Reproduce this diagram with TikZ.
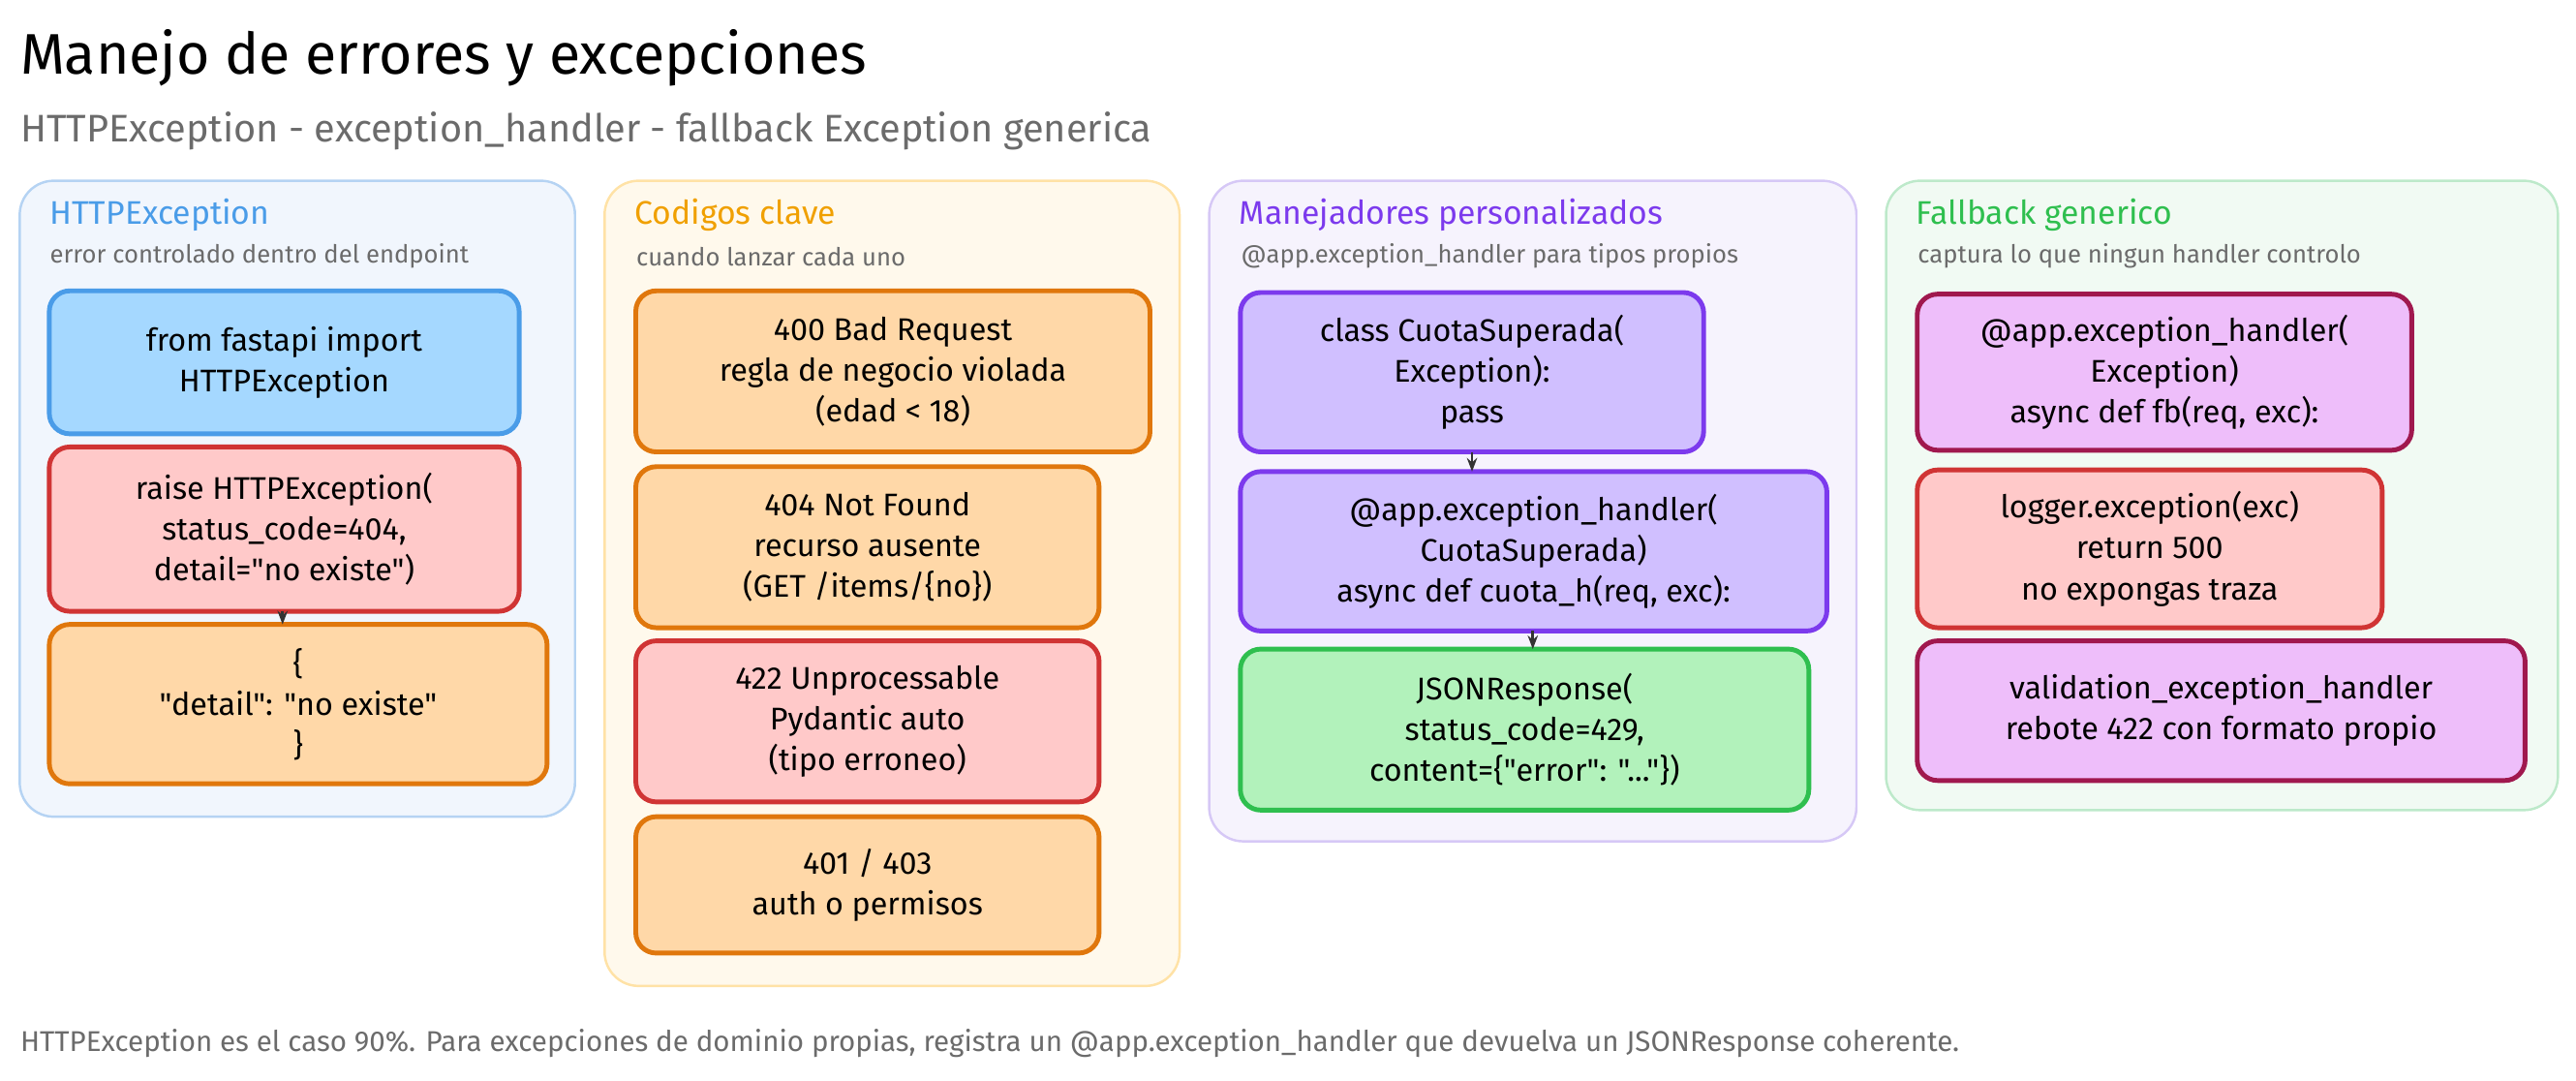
\documentclass[tikz,border=0pt]{standalone}
\usepackage{fontspec}
\setmainfont{Fira Sans}[Ligatures=TeXOff]
\usetikzlibrary{arrows.meta}
\newcommand{\dq}{"}
\definecolor{tgray}{HTML}{6b6b6b}
\definecolor{bluef}{HTML}{A5D8FF}\definecolor{blued}{HTML}{4A9CE8}
\definecolor{redf}{HTML}{FFC9C9}\definecolor{redd}{HTML}{D03434}
\definecolor{orf}{HTML}{FFD8A8}\definecolor{ord}{HTML}{E0770C}
\definecolor{puf}{HTML}{D0BFFF}\definecolor{pud}{HTML}{7C3AED}
\definecolor{grf}{HTML}{B2F2BB}\definecolor{grd}{HTML}{2FBF4F}
\definecolor{maf}{HTML}{EEBEFA}\definecolor{mad}{HTML}{A0184E}
\definecolor{ttlor}{HTML}{F0A000}
\definecolor{p1f}{HTML}{F1F6FD}\definecolor{p1d}{HTML}{B5D3F3}
\definecolor{p2f}{HTML}{FFF9EC}\definecolor{p2d}{HTML}{FFE2A6}
\definecolor{p3f}{HTML}{F6F3FD}\definecolor{p3d}{HTML}{D6C8F6}
\definecolor{p4f}{HTML}{F1FAF3}\definecolor{p4d}{HTML}{BDE9CA}
\newcommand{\mybox}[7]{\node[box,#6,minimum width={(#4-#2)*0.4827pt},minimum height={(#5-#3)*0.4827pt}] (#1) at ({(#2+#4)/2},{(#3+#5)/2}) {#7};}
\newcommand{\mypanel}[9]{\draw[panel,fill=#6,draw=#7] (#2,#3) rectangle (#4,#5);
\node[ptitle,text=#8] (#1t) at (#2+18,131) {#9};}
\begin{document}
\begin{tikzpicture}[x=0.4827pt,y=-0.4827pt,
 box/.style={draw,line width=1.4pt,rounded corners=6pt,align=center,font=\fontsize{9.2}{12}\selectfont,inner sep=2pt},
 panel/.style={line width=0.7pt,rounded corners=10pt},
 ptitle/.style={anchor=west,inner sep=0pt,font=\fontsize{9.6}{11}\selectfont},
 psub/.style={anchor=west,inner sep=0pt,text=tgray,font=\fontsize{7.3}{9}\selectfont},
 arr/.style={-{Stealth[length=4pt]},line width=0.8pt,black!80},
 b/.style={fill=bluef,draw=blued}, r/.style={fill=redf,draw=redd}, o/.style={fill=orf,draw=ord},
 p/.style={fill=puf,draw=pud}, g/.style={fill=grf,draw=grd}, m/.style={fill=maf,draw=mad}]
\useasboundingbox (0,0) rectangle (1568,657.3);
\node[anchor=west,inner sep=0pt,font=\fontsize{16.8}{18}\selectfont] (title) at (12,35) {Manejo de errores y excepciones};
\node[anchor=west,inner sep=0pt,text=tgray,font=\fontsize{11.3}{14}\selectfont] (subtitle) at (12,80) {HTTPException - exception\_handler - fallback Exception generica};
% panel 1
\mypanel{p1}{12}{110}{350}{497}{p1f}{p1d}{blued}{HTTPException}
\node[psub] (p1s) at (30,156) {error controlado dentro del endpoint};
\mybox{a1}{30}{177}{316}{264}{b}{from fastapi import\\HTTPException}
\mybox{a2}{30}{272}{316}{372}{r}{raise HTTPException(\\status\_code=404,\\detail=\dq no existe\dq)}
\mybox{a3}{30}{380}{333}{477}{o}{\{\\\dq detail\dq: \dq no existe\dq\\\}}
\draw[arr] (172,372) -- (172,380);
% panel 2
\mypanel{p2}{368}{110}{718}{600}{p2f}{p2d}{ttlor}{Codigos clave}
\node[psub] (p2s) at (387,156) {cuando lanzar cada uno};
\mybox{c1}{387}{177}{700}{275}{o}{400 Bad Request\\regla de negocio violada\\(edad < 18)}
\mybox{c2}{387}{284}{669}{382}{o}{404 Not Found\\recurso ausente\\(GET /items/\{no\})}
\mybox{c3}{387}{390}{669}{488}{r}{422 Unprocessable\\Pydantic auto\\(tipo erroneo)}
\mybox{c4}{387}{497}{669}{580}{o}{401 / 403\\auth o permisos}
% panel 3
\mypanel{p3}{736}{110}{1130}{512}{p3f}{p3d}{pud}{Manejadores personalizados}
\node[psub] (p3s) at (755,156) {@app.exception\_handler para tipos propios};
\mybox{d1}{755}{178}{1037}{275}{p}{class CuotaSuperada(\\Exception):\\pass}
\mybox{d2}{755}{287}{1112}{384}{p}{@app.exception\_handler(\\CuotaSuperada)\\async def cuota\_h(req, exc):}
\mybox{d3}{755}{395}{1101}{493}{g}{JSONResponse(\\status\_code=429,\\content=\{\dq error\dq: \dq...\dq\})}
\draw[arr] (896,275) -- (896,287);
\draw[arr] (933,384) -- (933,395);
% panel 4
\mypanel{p4}{1148}{110}{1557}{493}{p4f}{p4d}{grd}{Fallback generico}
\node[psub] (p4s) at (1167,156) {captura lo que ningun handler controlo};
\mybox{e1}{1167}{179}{1468}{274}{m}{@app.exception\_handler(\\Exception)\\async def fb(req, exc):}
\mybox{e2}{1167}{286}{1450}{382}{r}{logger.exception(exc)\\return 500\\no expongas traza}
\mybox{e3}{1167}{390}{1537}{475}{m}{validation\_exception\_handler\\rebote 422 con formato propio}
\node[anchor=west,inner sep=0pt,text=tgray,font=\fontsize{8.4}{10}\selectfont] (foot) at (12,635) {HTTPException es el caso 90\%. Para excepciones de dominio propias, registra un @app.exception\_handler que devuelva un JSONResponse coherente.};
\end{tikzpicture}
\end{document}
